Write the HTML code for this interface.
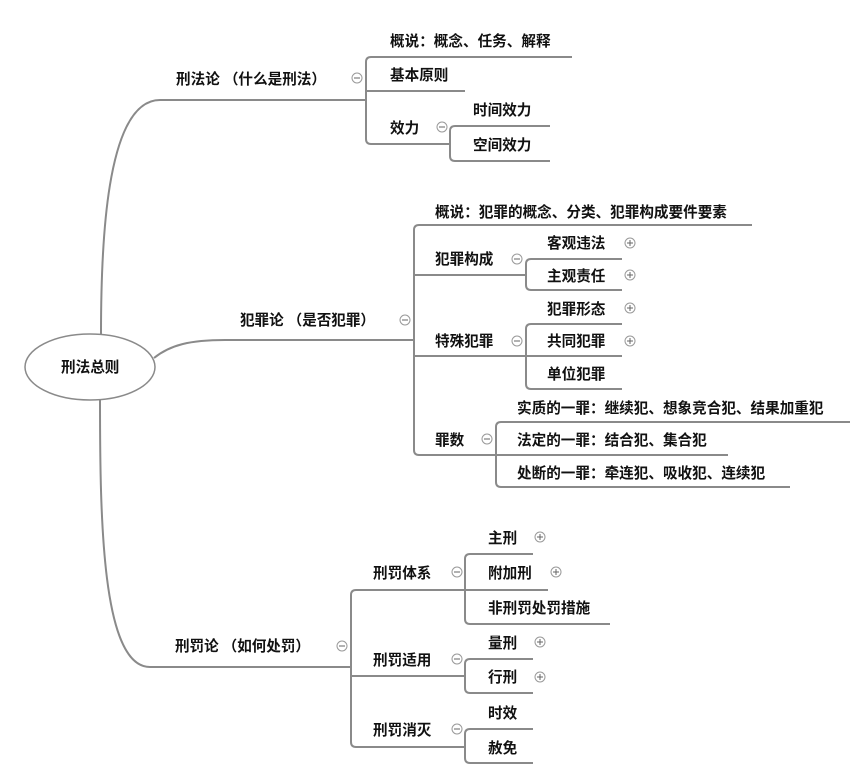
<!DOCTYPE html>
<html><head><meta charset="utf-8"><style>
html,body{margin:0;padding:0;background:#fff;}
svg text{font-family:"Liberation Sans","Noto Sans CJK SC",sans-serif;font-size:14.6px;font-weight:bold;fill:#111;}
</style></head><body>
<svg width="862" height="777" viewBox="0 0 862 777" xmlns="http://www.w3.org/2000/svg">
<g fill="none" stroke="#8a8a8a" stroke-width="2">
<ellipse cx="90" cy="367" rx="65" ry="33" stroke-width="1.5"/>
<path d="M101 334 C101 250 105 100 160 100 H366"/>
<path d="M154 358 C170 345 190 340 225 340 H414"/>
<path d="M100 400 C100 520 102 667 150 667 H351"/>
<path d="M572 57 H371 Q366 57 366 62 V139 Q366 144 371 144 H438"/>
<path d="M366 91 H465"/>
<path d="M550 126 H455 Q450 126 450 131 V156 Q450 161 455 161 H550"/>
<path d="M438 144 H450"/>
<path d="M752 225 H419 Q414 225 414 230 V450 Q414 455 419 455 H480"/>
<path d="M414 275 H512 M414 356 H512"/>
<path d="M622 259 H531 Q526 259 526 264 V285 Q526 290 531 290 H622 M512 275 H526"/>
<path d="M622 324 H531 Q526 324 526 329 V384 Q526 389 531 389 H622 M526 356 H622 M512 356 H526"/>
<path d="M850 422 H501 Q496 422 496 427 V482 Q496 487 501 487 H790 M496 455 H728 M480 455 H496"/>
<path d="M450 590 H356 Q351 590 351 595 V742 Q351 747 356 747 H450 M351 676 H450"/>
<path d="M533 554 H470 Q465 554 465 559 V619 Q465 624 470 624 H610 M465 590 H548 M450 590 H465"/>
<path d="M533 659 H470 Q465 659 465 664 V688 Q465 693 470 693 H533 M450 676 H465"/>
<path d="M533 729 H470 Q465 729 465 734 V758 Q465 763 470 763 H533 M450 747 H465"/>
</g>
<g fill="#fff" stroke="#999" stroke-width="1">
<circle cx="357" cy="78" r="5"/><circle cx="442" cy="127" r="5"/>
<circle cx="405" cy="320" r="5"/><circle cx="517" cy="259" r="5"/><circle cx="517" cy="341" r="5"/><circle cx="487" cy="439" r="5"/>
<circle cx="630" cy="243" r="5"/><circle cx="630" cy="275" r="5"/><circle cx="630" cy="308" r="5"/><circle cx="630" cy="341" r="5"/>
<circle cx="342" cy="646" r="5"/><circle cx="457" cy="572" r="5"/><circle cx="457" cy="659" r="5"/><circle cx="457" cy="729" r="5"/>
<circle cx="540" cy="537" r="5"/><circle cx="556" cy="572" r="5"/><circle cx="540" cy="642" r="5"/><circle cx="540" cy="677" r="5"/>
</g>
<g stroke="#666" stroke-width="1">
<path d="M354 78h6M439 127h6M402 320h6M514 259h6M514 341h6M484 439h6M339 646h6M454 572h6M454 659h6M454 729h6"/>
<path d="M627 243h6M630 240v6M627 275h6M630 272v6M627 308h6M630 305v6M627 341h6M630 338v6M537 537h6M540 534v6M553 572h6M556 569v6M537 642h6M540 639v6M537 677h6M540 674v6"/>
</g>
<g>
<text x="61" y="372">刑法总则</text>
<text x="176" y="84" textLength="150">刑法论 （什么是刑法）</text>
<text x="390" y="46">概说：概念、任务、解释</text>
<text x="390" y="80">基本原则</text>
<text x="390" y="133">效力</text>
<text x="473" y="115">时间效力</text>
<text x="473" y="150">空间效力</text>
<text x="240" y="325" textLength="135">犯罪论 （是否犯罪）</text>
<text x="435" y="217">概说：犯罪的概念、分类、犯罪构成要件要素</text>
<text x="435" y="264">犯罪构成</text>
<text x="547" y="248">客观违法</text>
<text x="547" y="281">主观责任</text>
<text x="435" y="346">特殊犯罪</text>
<text x="547" y="314">犯罪形态</text>
<text x="547" y="346">共同犯罪</text>
<text x="547" y="379">单位犯罪</text>
<text x="435" y="445">罪数</text>
<text x="517" y="413">实质的一罪：继续犯、想象竞合犯、结果加重犯</text>
<text x="517" y="445">法定的一罪：结合犯、集合犯</text>
<text x="517" y="478">处断的一罪：牵连犯、吸收犯、连续犯</text>
<text x="175" y="651" textLength="135">刑罚论 （如何处罚）</text>
<text x="373" y="578">刑罚体系</text>
<text x="488" y="543">主刑</text>
<text x="488" y="578">附加刑</text>
<text x="488" y="613">非刑罚处罚措施</text>
<text x="373" y="665">刑罚适用</text>
<text x="488" y="648">量刑</text>
<text x="488" y="682">行刑</text>
<text x="373" y="735">刑罚消灭</text>
<text x="488" y="718">时效</text>
<text x="488" y="753">赦免</text>
</g>
</svg>
</body></html>
